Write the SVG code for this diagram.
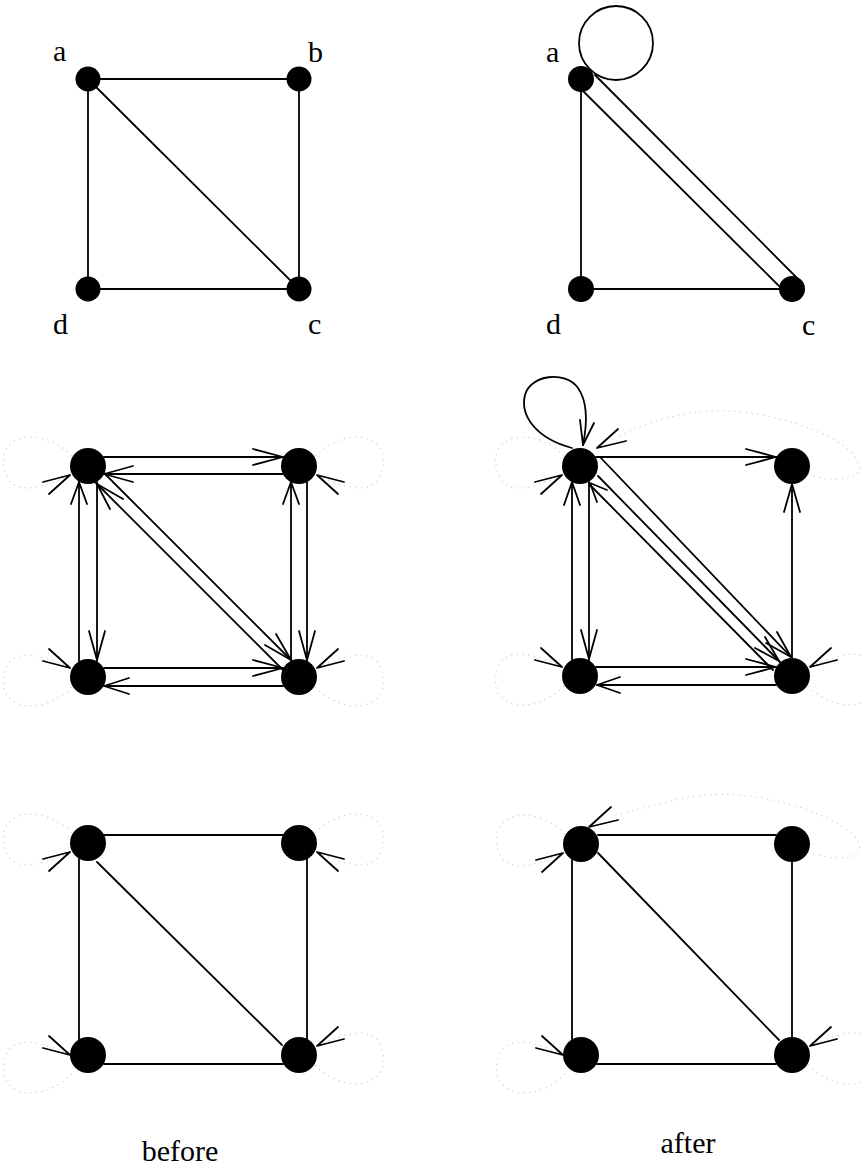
<svg xmlns="http://www.w3.org/2000/svg" xmlns:xlink="http://www.w3.org/1999/xlink" width="863" height="1167" viewBox="0 0 863 1167">
<style>
.e{stroke:#000;stroke-width:1.8;fill:none;stroke-linecap:round;stroke-linejoin:round}
.dot{stroke:#cfcfcf;stroke-width:1.2;fill:none;stroke-dasharray:1.2 4.5}
.n{fill:#000}
.lbl{font-family:"Liberation Serif","Times New Roman",serif;font-size:30px;fill:#000}
</style>
<defs>
<g id="loopL">
<path class="dot" d="M-16,-10 C-48,-42 -90,-30 -84,0 C-80,30 -53,25 -20,10"/>
<polyline class="e" points="-45,16 -18,9 -39,28"/>
</g>
</defs>
<rect width="863" height="1167" fill="#fff"/>

<g id="connectors">
<!-- top-left -->
<line class="e" x1="88" y1="79" x2="299" y2="79"/>
<line class="e" x1="299" y1="79" x2="299" y2="289"/>
<line class="e" x1="88" y1="289" x2="299" y2="289"/>
<line class="e" x1="88" y1="79" x2="88" y2="289"/>
<line class="e" x1="88" y1="79" x2="299" y2="289"/>
<!-- top-right -->
<circle class="e" cx="616" cy="43" r="37"/>
<line class="e" x1="581" y1="79" x2="581" y2="289"/>
<line class="e" x1="581" y1="289" x2="792" y2="289"/>
<line class="e" x1="583" y1="91" x2="781" y2="288"/>
<line class="e" x1="595" y1="75" x2="797" y2="278"/>

<!-- middle-left -->
<line class="e" x1="104" y1="457" x2="283" y2="457"/>
<polyline class="e" points="253,449 283,457 253,465"/>
<line class="e" x1="283" y1="474" x2="104" y2="474"/>
<polyline class="e" points="133,466 104,474 133,482"/>
<line class="e" x1="79" y1="661" x2="79" y2="482"/>
<polyline class="e" points="71,504 79,482 87,504"/>
<line class="e" x1="97" y1="482" x2="97" y2="661"/>
<polyline class="e" points="89,631 97,660 105,631"/>
<line class="e" x1="291" y1="661" x2="291" y2="482"/>
<polyline class="e" points="283,504 291,482 299,504"/>
<line class="e" x1="307" y1="482" x2="307" y2="661"/>
<polyline class="e" points="299,631 307,660 315,631"/>
<line class="e" x1="104" y1="668" x2="283" y2="668"/>
<polyline class="e" points="253,660 283,668 253,676"/>
<line class="e" x1="283" y1="686" x2="104" y2="686"/>
<polyline class="e" points="129,678 104,686 129,694"/>
<line class="e" x1="104" y1="473" x2="292" y2="661"/>
<polyline class="e" points="276,634 291,660 265,645"/>
<line class="e" x1="283" y1="670" x2="95" y2="482"/>
<polyline class="e" points="123,499 97,484 110,509"/>
<use xlink:href="#loopL" href="#loopL" transform="translate(88,466)"/>
<use xlink:href="#loopL" href="#loopL" transform="translate(299,466) scale(-1,1)"/>
<use xlink:href="#loopL" href="#loopL" transform="translate(88,677) scale(1,-1)"/>
<use xlink:href="#loopL" href="#loopL" transform="translate(299,677) scale(-1,-1)"/>

<!-- middle-right -->
<line class="e" x1="596" y1="457" x2="776" y2="457"/>
<polyline class="e" points="746,449 776,457 746,465"/>
<line class="e" x1="792" y1="658" x2="792" y2="484"/>
<polyline class="e" points="784,512 792,484 800,512"/>
<line class="e" x1="572" y1="660" x2="572" y2="482"/>
<polyline class="e" points="564,505 572,482 580,505"/>
<line class="e" x1="589" y1="482" x2="589" y2="660"/>
<polyline class="e" points="581,630 589,659 597,630"/>
<line class="e" x1="596" y1="667" x2="776" y2="667"/>
<polyline class="e" points="746,659 776,667 746,675"/>
<line class="e" x1="776" y1="685" x2="597" y2="685"/>
<polyline class="e" points="620,677 597,685 620,693"/>
<line class="e" x1="600" y1="457" x2="792" y2="658"/>
<polyline class="e" points="777,632 791,657 766,643"/>
<line class="e" x1="598" y1="476" x2="780" y2="662"/>
<polyline class="e" points="765,637 779,661 755,648"/>
<line class="e" x1="773" y1="670" x2="589" y2="484"/>
<polyline class="e" points="607,490 590,483 597,502"/>
<path class="e" d="M572,448 C535,438 520,415 525,395 C530,375 565,370 578,388 C590,405 586,430 583,445"/>
<polyline class="e" points="580,420 583,445 594,423"/>
<path class="dot" d="M808,474 C835,485 868,478 858,462 C845,432 750,402 690,413 C655,419 635,428 618,437"/>
<polyline class="e" points="626,441 597,448 618,429"/>
<use xlink:href="#loopL" href="#loopL" transform="translate(580,466)"/>
<use xlink:href="#loopL" href="#loopL" transform="translate(580,676) scale(1,-1)"/>
<use xlink:href="#loopL" href="#loopL" transform="translate(792,676) scale(-1,-1)"/>

<!-- bottom-left -->
<line class="e" x1="104" y1="835" x2="283" y2="835"/>
<line class="e" x1="79" y1="859" x2="79" y2="1040"/>
<line class="e" x1="307" y1="859" x2="307" y2="1040"/>
<line class="e" x1="104" y1="1064" x2="283" y2="1064"/>
<line class="e" x1="97" y1="862" x2="282" y2="1045"/>
<use xlink:href="#loopL" href="#loopL" transform="translate(88,843)"/>
<use xlink:href="#loopL" href="#loopL" transform="translate(299,843) scale(-1,1)"/>
<use xlink:href="#loopL" href="#loopL" transform="translate(88,1064) scale(1,-1)"/>
<use xlink:href="#loopL" href="#loopL" transform="translate(299,1055) scale(-1,-1)"/>

<!-- bottom-right -->
<line class="e" x1="598" y1="835" x2="776" y2="835"/>
<line class="e" x1="572" y1="860" x2="572" y2="1040"/>
<line class="e" x1="792" y1="862" x2="792" y2="1037"/>
<line class="e" x1="597" y1="1064" x2="776" y2="1064"/>
<line class="e" x1="598" y1="853" x2="779" y2="1040"/>
<path class="dot" d="M808,852 C835,862 868,860 858,842 C845,815 750,785 690,797 C655,804 630,812 612,816"/>
<polyline class="e" points="611,807 589,827 618,820"/>
<use xlink:href="#loopL" href="#loopL" transform="translate(581,844)"/>
<use xlink:href="#loopL" href="#loopL" transform="translate(581,1064) scale(1,-1)"/>
<use xlink:href="#loopL" href="#loopL" transform="translate(792,1055) scale(-1,-1)"/>
</g>

<g id="tl-a"><circle class="n" cx="88" cy="79" r="12.5"/><text class="lbl" x="53" y="61">a</text></g>
<g id="tl-b"><circle class="n" cx="299" cy="79" r="12.5"/><text class="lbl" x="308" y="62">b</text></g>
<g id="tl-c"><circle class="n" cx="299" cy="289" r="12.5"/><text class="lbl" x="308" y="334">c</text></g>
<g id="tl-d"><circle class="n" cx="88" cy="289" r="12.5"/><text class="lbl" x="53" y="334">d</text></g>

<g id="tr-a"><circle class="n" cx="581" cy="79" r="13"/><text class="lbl" x="546" y="62">a</text></g>
<g id="tr-c"><circle class="n" cx="792" cy="289" r="13"/><text class="lbl" x="802" y="335">c</text></g>
<g id="tr-d"><circle class="n" cx="581" cy="289" r="13"/><text class="lbl" x="546" y="334">d</text></g>

<g id="ml-a"><circle class="n" cx="88" cy="466" r="18"/></g>
<g id="ml-b"><circle class="n" cx="299" cy="466" r="18"/></g>
<g id="ml-c"><circle class="n" cx="299" cy="677" r="18"/></g>
<g id="ml-d"><circle class="n" cx="88" cy="677" r="18"/></g>

<g id="mr-a"><circle class="n" cx="580" cy="466" r="18"/></g>
<g id="mr-b"><circle class="n" cx="792" cy="466" r="18"/></g>
<g id="mr-c"><circle class="n" cx="792" cy="676" r="18"/></g>
<g id="mr-d"><circle class="n" cx="580" cy="676" r="18"/></g>

<g id="bl-a"><circle class="n" cx="88" cy="843" r="18"/></g>
<g id="bl-b"><circle class="n" cx="299" cy="843" r="18"/></g>
<g id="bl-c"><circle class="n" cx="299" cy="1055" r="18"/></g>
<g id="bl-d"><circle class="n" cx="88" cy="1055" r="18"/></g>

<g id="br-a"><circle class="n" cx="581" cy="844" r="18"/></g>
<g id="br-b"><circle class="n" cx="792" cy="844" r="18"/></g>
<g id="br-c"><circle class="n" cx="792" cy="1055" r="18"/></g>
<g id="br-d"><circle class="n" cx="581" cy="1055" r="18"/></g>

<g id="captions">
<text class="lbl" x="180" y="1161" text-anchor="middle">before</text>
<text class="lbl" x="688" y="1153" text-anchor="middle">after</text>
</g>
</svg>
